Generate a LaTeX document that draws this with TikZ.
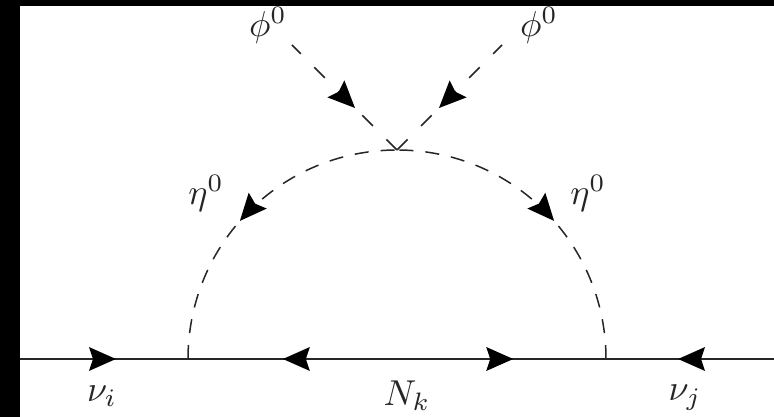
\documentclass[tikz,border=0pt]{standalone}
\usetikzlibrary{decorations.markings}
\newcommand{\headF}{\fill (0pt,0pt) -- (-27pt,12pt) -- (-23pt,0pt) -- (-27pt,-12pt) -- cycle;}
\newcommand{\headB}{\fill (0pt,0pt) -- (27pt,12pt) -- (23pt,0pt) -- (27pt,-12pt) -- cycle;}
\tikzset{
  x=1pt,y=1pt,
  fermion/.style={draw=black!85,line width=2pt},
  scalar/.style={draw=black!85,line width=1.5pt,dash pattern=on 15pt off 19pt},
  arcscalar/.style={draw=black!85,line width=1.5pt,dash pattern=on 14pt off 12pt},
  fwd/.style={postaction={decorate,decoration={markings,mark=at position #1 with {\headF}}}},
  bwd/.style={postaction={decorate,decoration={markings,mark=at position #1 with {\headB}}}},
  lab/.style={inner sep=0pt,scale=3.6,text=black!85}
}
\begin{document}
\begin{tikzpicture}
\useasboundingbox (0,0) rectangle (774,417);
\fill[black] (0,0) rectangle (774,417);
\fill[white] (20,0) rectangle (774,411);
\coordinate (lineL) at (20,58);
\coordinate (footL) at (188,58);
\coordinate (footR) at (606,58);
\coordinate (lineR) at (774,58);
\coordinate (vertex) at (397,267);
\coordinate (extL) at (292,372);
\coordinate (extR) at (502,372);
\path[fermion,fwd=.571] (lineL) -- (footL);
\path[fermion,bwd=.227,fwd=.778] (footL) -- (footR);
\path[fermion,bwd=.429] (footR) -- (lineR);
\path[arcscalar,bwd=.459] (footL) to[out=90,in=180,looseness=1] (vertex);
\path[arcscalar,bwd=.459] (footR) to[out=90,in=0,looseness=1] (vertex);
\path[scalar,bwd=.4] (vertex) -- (extL);
\path[scalar,bwd=.4] (vertex) -- (extR);
\node[lab] (phiL) at (268,392) {$\phi^0$};
\node[lab] (phiR) at (539,392) {$\phi^0$};
\node[lab] (etaL) at (206,224) {$\eta^0$};
\node[lab] (etaR) at (588,224) {$\eta^0$};
\node[lab] (nui) at (102,21) {$\nu_i$};
\node[lab] (Nk) at (407,21) {$N_k$};
\node[lab] (nuj) at (685,19) {$\nu_j$};
\end{tikzpicture}
\end{document}
